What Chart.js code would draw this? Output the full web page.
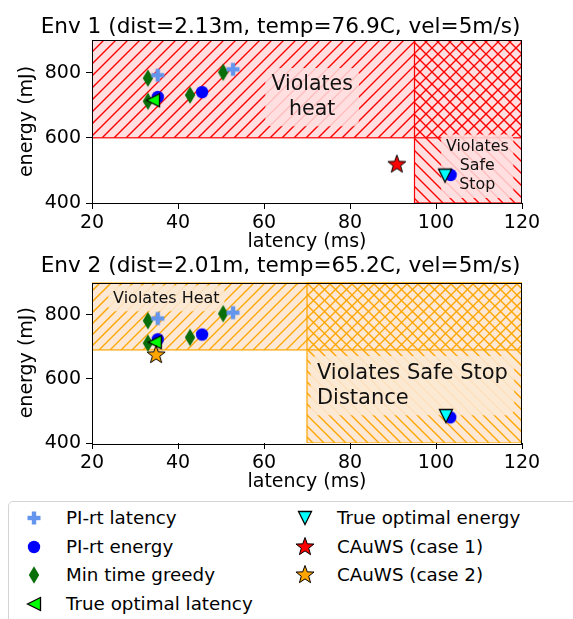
<!DOCTYPE html>
<html>
<head>
<meta charset="utf-8">
<script src="https://cdn.jsdelivr.net/npm/chart.js@4/dist/chart.umd.min.js"></script>
<style>
  html, body { margin: 0; padding: 0; background: #fff; }
  body { width: 573px; height: 619px; position: relative; overflow: hidden; font-family: "DejaVu Sans", sans-serif; }
  canvas.plot { position: absolute; left: 0; }
  #env1Chart { top: 0; }
  #env2Chart { top: 240px; }
  #legend {
    position: absolute; left: 8px; top: 501px; width: 600px; height: 130px;
    border: 1px solid #d4d4d4; border-radius: 5px; background: #fff;
  }
  .item { position: absolute; height: 24px; display: flex; align-items: center; }
  .item canvas { width: 24px; height: 24px; }
  .item span { position: absolute; left: 44px; font-size: 18.3px; color: #000; white-space: nowrap; line-height: 24px; }
</style>
</head>
<body>
<canvas id="env1Chart" class="plot" width="573" height="253"></canvas>
<canvas id="env2Chart" class="plot" width="573" height="253"></canvas>
<div id="legend"></div>
<script>
const xTicks = [20, 40, 60, 80, 100, 120];
const yTicks = [400, 600, 800];
const xRange = [20, 120];
const yRange = [400, 900];

const seriesNames = [
    "PI-rt latency",
    "PI-rt energy",
    "Min time greedy",
    "True optimal latency",
    "True optimal energy",
    "CAuWS (case 1)",
    "CAuWS (case 2)"
];

// [latency ms, energy mJ]
const env1PiLatency = [[35.3, 792], [52.8, 810]];
const env1PiEnergy = [[35.3, 725], [45.6, 740], [103.4, 486]];
const env1Greedy = [[33.0, 783], [33.0, 712], [42.8, 731], [50.5, 801]];
const env1OptLatency = [[34.2, 715]];
const env1OptEnergy = [[102.1, 484]];
const env1Cauws1 = [[90.9, 518]];

const env2PiLatency = [[35.3, 788], [52.8, 806]];
const env2PiEnergy = [[35.3, 723], [45.6, 738], [103.3, 480]];
const env2Greedy = [[33.0, 781], [33.0, 711], [42.8, 729], [50.5, 803]];
const env2OptLatency = [[34.6, 714]];
const env2OptEnergy = [[102.3, 484]];
const env2Cauws2 = [[34.9, 674]];

// limits: energy above heat limit violates heat, latency above stop limit violates safe stop
const env1HeatLimit = 600;
const env1StopLimit = 95;
const env2HeatLimit = 690;
const env2StopLimit = 70;

const FONT = '"DejaVu Sans"';
const AXIS_FONT = { family: "DejaVu Sans", size: 19 };

// greedy diamonds sit underneath everything else
const drawOrder = [6, 5, 7, 4, 3, 2, 1];

/* Markers */

function makeMarker(size, draw) {
    const c = document.createElement("canvas");
    c.width = size;
    c.height = size;
    const g = c.getContext("2d");
    g.translate(size / 2, size / 2);
    draw(g);
    return c;
}

function starPath(g, outer, inner) {
    g.beginPath();
    for (let i = 0; i < 10; i++) {
        const r = i % 2 === 0 ? outer : inner;
        const a = -Math.PI / 2 + i * Math.PI / 5;
        g.lineTo(r * Math.cos(a), r * Math.sin(a));
    }
    g.closePath();
}

const plusMarker = makeMarker(18, g => {
    g.fillStyle = "#6495ed";
    g.fillRect(-6.5, -2.2, 13, 4.4);
    g.fillRect(-2.2, -6.5, 4.4, 13);
});

const circleMarker = makeMarker(16, g => {
    g.fillStyle = "#0000ff";
    g.beginPath();
    g.arc(0, 0, 6.2, 0, Math.PI * 2);
    g.fill();
});

const diamondMarker = makeMarker(20, g => {
    g.fillStyle = "#0a6e0a";
    g.beginPath();
    g.moveTo(0, -8.8);
    g.lineTo(5.2, 0);
    g.lineTo(0, 8.8);
    g.lineTo(-5.2, 0);
    g.closePath();
    g.fill();
});

const leftTriMarker = makeMarker(18, g => {
    g.fillStyle = "#00ff00";
    g.strokeStyle = "#000";
    g.lineWidth = 1.3;
    g.beginPath();
    g.moveTo(-6.5, 0);
    g.lineTo(6.5, -6.5);
    g.lineTo(6.5, 6.5);
    g.closePath();
    g.fill();
    g.stroke();
});

const downTriMarker = makeMarker(18, g => {
    g.fillStyle = "#00ffff";
    g.strokeStyle = "#000";
    g.lineWidth = 1.3;
    g.beginPath();
    g.moveTo(-6.5, -6.5);
    g.lineTo(6.5, -6.5);
    g.lineTo(0, 6.5);
    g.closePath();
    g.fill();
    g.stroke();
});

const redStarMarker = makeMarker(22, g => {
    starPath(g, 9.5, 3.9);
    g.fillStyle = "#ff0000";
    g.fill();
    g.strokeStyle = "#000";
    g.lineWidth = 1;
    g.stroke();
});

const orangeStarMarker = makeMarker(22, g => {
    starPath(g, 9.5, 3.9);
    g.fillStyle = "#ffa500";
    g.fill();
    g.strokeStyle = "#000";
    g.lineWidth = 1;
    g.stroke();
});

const markers = [plusMarker, circleMarker, diamondMarker, leftTriMarker, downTriMarker, redStarMarker, orangeStarMarker];

/* Plugins */

const regionPlugin = {
    id: "regions",
    beforeDatasetsDraw(chart, args, opts) {
        const { ctx, chartArea, scales: { x, y } } = chart;
        const boxes = opts.regions.map(r => {
            const l = x.getPixelForValue(r.x[0]);
            const rt = x.getPixelForValue(r.x[1]);
            const t = y.getPixelForValue(r.y[1]);
            const b = y.getPixelForValue(r.y[0]);
            return { l, rt, t, b, hatch: r.hatch };
        });
        ctx.save();
        ctx.beginPath();
        ctx.rect(chartArea.left, chartArea.top, chartArea.width, chartArea.height);
        ctx.clip();
        ctx.fillStyle = opts.fill;
        boxes.forEach(bx => ctx.fillRect(bx.l, bx.t, bx.rt - bx.l, bx.b - bx.t));

        boxes.forEach(bx => {
            ctx.save();
            ctx.beginPath();
            ctx.rect(bx.l, bx.t, bx.rt - bx.l, bx.b - bx.t);
            ctx.clip();
            ctx.beginPath();
            const step = opts.step;
            if (bx.hatch === "/") {
                const start = Math.floor((bx.l + bx.t) / step) * step;
                for (let c = start; c <= bx.rt + bx.b; c += step) {
                    ctx.moveTo(c - bx.b, bx.b);
                    ctx.lineTo(c - bx.t, bx.t);
                }
            } else {
                const start = Math.floor((bx.l - bx.b) / step) * step;
                for (let c = start; c <= bx.rt - bx.t; c += step) {
                    ctx.moveTo(c + bx.t, bx.t);
                    ctx.lineTo(c + bx.b, bx.b);
                }
            }
            ctx.strokeStyle = opts.line;
            ctx.lineWidth = 1.35;
            ctx.stroke();
            ctx.restore();
        });

        ctx.strokeStyle = opts.line;
        ctx.lineWidth = 1.2;
        boxes.forEach(bx => ctx.strokeRect(bx.l, bx.t, bx.rt - bx.l, bx.b - bx.t));
        ctx.restore();
    }
};

const notePlugin = {
    id: "notes",
    beforeDatasetsDraw(chart, args, opts) {
        const { ctx, scales: { x, y } } = chart;
        opts.notes.forEach(n => {
            ctx.save();
            ctx.font = `${n.size}px ${FONT}`;
            const px = x.getPixelForValue(n.x);
            const py = y.getPixelForValue(n.y);
            const w = Math.max(...n.lines.map(s => ctx.measureText(s).width));
            const left = n.align === "center" ? px - w / 2 : px;
            const pad = n.size * 0.3;
            const top = py - n.size * 0.78 - pad;
            const bottom = py + (n.lines.length - 1) * n.lh + n.size * 0.24 + pad;
            ctx.fillStyle = opts.box;
            ctx.beginPath();
            ctx.roundRect(left - pad, top, w + pad * 2, bottom - top, pad);
            ctx.fill();
            ctx.fillStyle = "#111";
            ctx.textAlign = n.align;
            ctx.textBaseline = "alphabetic";
            n.lines.forEach((s, i) => ctx.fillText(s, px, py + i * n.lh));
            ctx.restore();
        });
    }
};

const framePlugin = {
    id: "frame",
    afterDraw(chart, args, opts) {
        const { ctx, chartArea } = chart;
        ctx.save();
        ctx.strokeStyle = "#000";
        ctx.lineWidth = 1;
        ctx.strokeRect(Math.round(chartArea.left) + 0.5, Math.round(chartArea.top) + 0.5,
            Math.round(chartArea.width) - 1, Math.round(chartArea.height));
        ctx.font = `21.6px ${FONT}`;
        ctx.fillStyle = "#000";
        ctx.textAlign = "center";
        ctx.textBaseline = "alphabetic";
        ctx.fillText(opts.title, opts.titleX, opts.titleY);
        ctx.restore();
    }
};

/* Charts */

function toPoints(list) {
    return list.map(p => ({ x: p[0], y: p[1] }));
}

function makeEnvChart(canvas, seriesData, setup) {
    const datasets = seriesData.map((pts, i) => ({
        label: seriesNames[i],
        data: toPoints(pts),
        pointStyle: markers[i],
        pointRadius: 7,
        order: drawOrder[i]
    })).filter(ds => ds.data.length > 0);

    return new Chart(canvas, {
        type: "scatter",
        data: { datasets },
        options: {
            responsive: false,
            animation: false,
            layout: { padding: { top: setup.top, right: 51, left: 0, bottom: 0 } },
            plugins: {
                legend: { display: false },
                tooltip: { enabled: false },
                regions: setup.regions,
                notes: setup.notes,
                frame: setup.frame
            },
            scales: {
                x: {
                    type: "linear",
                    min: xRange[0],
                    max: xRange[1],
                    afterBuildTicks: scale => { scale.ticks = xTicks.map(v => ({ value: v })); },
                    afterFit: scale => { scale.height = 50; },
                    grid: { drawOnChartArea: false, drawTicks: true, tickLength: 6, color: "#000" },
                    border: { display: false },
                    ticks: { color: "#000", padding: 3, font: AXIS_FONT },
                    title: {
                        display: true, text: "latency (ms)", color: "#000",
                        padding: { top: 0, bottom: 0 },
                        font: AXIS_FONT
                    }
                },
                y: {
                    type: "linear",
                    min: yRange[0],
                    max: yRange[1],
                    afterBuildTicks: scale => { scale.ticks = yTicks.map(v => ({ value: v })); },
                    afterFit: scale => { scale.width = 92; },
                    grid: { drawOnChartArea: false, drawTicks: true, tickLength: 6, color: "#000" },
                    border: { display: false },
                    ticks: { color: "#000", padding: 5, font: AXIS_FONT },
                    title: {
                        display: true, text: "energy (mJ)", color: "#000",
                        padding: { top: 15.6, bottom: 0 },
                        font: AXIS_FONT
                    }
                }
            }
        },
        plugins: [regionPlugin, notePlugin, framePlugin]
    });
}

makeEnvChart(document.querySelector("#env1Chart"),
    [env1PiLatency, env1PiEnergy, env1Greedy, env1OptLatency, env1OptEnergy, env1Cauws1, []],
    {
        top: 40,
        regions: {
            fill: "#ffdfdf",
            line: "#ff0000",
            step: 12,
            regions: [
                { x: [xRange[0], xRange[1]], y: [env1HeatLimit, yRange[1]], hatch: "/" },
                { x: [env1StopLimit, xRange[1]], y: [yRange[0], yRange[1]], hatch: "\\" }
            ]
        },
        notes: {
            box: "rgba(255,223,223,0.85)",
            notes: [
                { x: 71.2, y: 746, lines: ["Violates", "heat"], size: 20.5, lh: 25, align: "center" },
                { x: 109.6, y: 558, lines: ["Violates", "Safe", "Stop"], size: 15.8, lh: 19, align: "center" }
            ]
        },
        frame: { title: "Env 1 (dist=2.13m, temp=76.9C, vel=5m/s)", titleX: 280.5, titleY: 33 }
    });

makeEnvChart(document.querySelector("#env2Chart"),
    [env2PiLatency, env2PiEnergy, env2Greedy, env2OptLatency, env2OptEnergy, [], env2Cauws2],
    {
        top: 42.5,
        regions: {
            fill: "#fce8d4",
            line: "#ffa500",
            step: 11,
            regions: [
                { x: [xRange[0], xRange[1]], y: [env2HeatLimit, yRange[1]], hatch: "/" },
                { x: [env2StopLimit, xRange[1]], y: [yRange[0], yRange[1]], hatch: "\\" }
            ]
        },
        notes: {
            box: "rgba(252,232,212,0.88)",
            notes: [
                { x: 24.9, y: 837, lines: ["Violates Heat"], size: 16, lh: 19, align: "left" },
                { x: 72.3, y: 600, lines: ["Violates Safe Stop", "Distance"], size: 21, lh: 25, align: "left" }
            ]
        },
        frame: { title: "Env 2 (dist=2.01m, temp=65.2C, vel=5m/s)", titleX: 280.5, titleY: 32 }
    });

/* Legend */

const legendEl = document.querySelector("#legend");
const legendColumnRows = 4;

seriesNames.forEach((name, i) => {
    const col = Math.floor(i / legendColumnRows);
    const row = i % legendColumnRows;
    const item = document.createElement("div");
    item.className = "item";
    item.style.left = (col === 0 ? 13 : 284) + "px";
    item.style.top = (4 + row * 28.7) + "px";

    const icon = document.createElement("canvas");
    icon.width = 24;
    icon.height = 24;
    const g = icon.getContext("2d");
    const m = markers[i];
    g.drawImage(m, 12 - m.width / 2, 12 - m.height / 2);

    const label = document.createElement("span");
    label.textContent = name;

    item.appendChild(icon);
    item.appendChild(label);
    legendEl.appendChild(item);
});
</script>
</body>
</html>
